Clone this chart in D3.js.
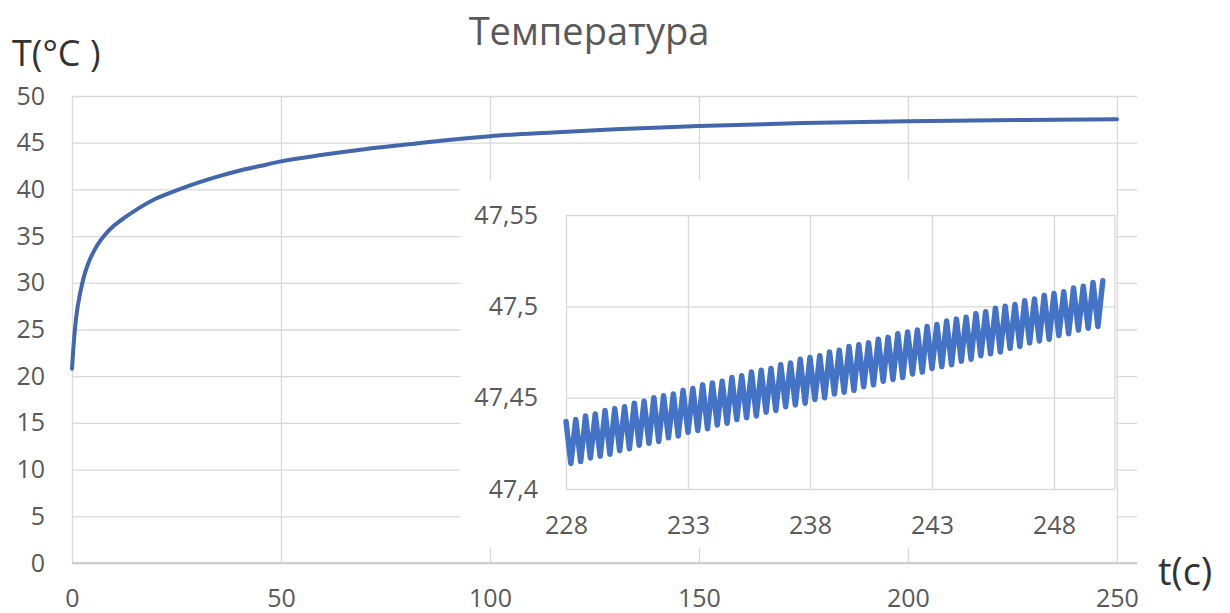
<!DOCTYPE html>
<html>
<head>
<meta charset="utf-8">
<script src="https://cdn.jsdelivr.net/npm/d3@7"></script>
<style>
  html, body { margin: 0; padding: 0; background: #ffffff; }
  svg { display: block; }
  text { font-family: "Open Sans", "DejaVu Sans", sans-serif; }
</style>
</head>
<body>
<svg id="chart" width="1230" height="613"></svg>
<script>
// ---- Main curve: heating from ambient, time in seconds, temperature in °C
const heatTime = [0, 0.5, 1, 2, 3, 4, 6, 8, 10, 13, 16, 20, 25, 30, 35, 40, 45, 50,
                  60, 70, 80, 90, 100, 115, 130, 150, 175, 200, 228, 250];
const heatTemp = [20.8, 24.0, 26.3, 29.0, 30.9, 32.2, 34.0, 35.2, 36.1, 37.1, 38.0, 39.0,
                  39.9, 40.7, 41.4, 42.0, 42.5, 43.0, 43.7, 44.3, 44.8, 45.3, 45.7, 46.1,
                  46.45, 46.8, 47.1, 47.3, 47.43, 47.5];

// ---- Detail window 228–250 s: sampled every 0.2 s, alternating peak / trough
const zoomStart = 228;
const zoomStep = 0.2;
const zoomTemp = [
  47.437, 47.414, 47.438, 47.415, 47.440, 47.417, 47.441, 47.418, 47.443, 47.419,
  47.444, 47.421, 47.445, 47.422, 47.447, 47.424, 47.448, 47.425, 47.450, 47.426,
  47.451, 47.428, 47.452, 47.429, 47.454, 47.431, 47.455, 47.432, 47.457, 47.433,
  47.458, 47.435, 47.459, 47.436, 47.461, 47.438, 47.462, 47.439, 47.464, 47.440,
  47.465, 47.442, 47.466, 47.443, 47.468, 47.445, 47.469, 47.446, 47.471, 47.447,
  47.472, 47.449, 47.473, 47.450, 47.475, 47.452, 47.476, 47.453, 47.478, 47.454,
  47.479, 47.456, 47.480, 47.457, 47.482, 47.459, 47.483, 47.460, 47.485, 47.461,
  47.486, 47.463, 47.487, 47.464, 47.489, 47.466, 47.490, 47.467, 47.492, 47.468,
  47.493, 47.470, 47.494, 47.471, 47.496, 47.473, 47.497, 47.474, 47.499, 47.475,
  47.500, 47.477, 47.501, 47.478, 47.503, 47.480, 47.504, 47.481, 47.506, 47.482,
  47.507, 47.484, 47.508, 47.485, 47.510, 47.487, 47.511, 47.488, 47.513, 47.489,
  47.514
];

// ---- Ticks and labels
const mainXTicks = [0, 50, 100, 150, 200, 250];
const mainYTicks = [0, 5, 10, 15, 20, 25, 30, 35, 40, 45, 50];
const zoomXTicks = [228, 233, 238, 243, 248];
const zoomYTicks = [47.4, 47.45, 47.5, 47.55];
const chartTitle = "Температура";
const yTitle = "T(°C )";
const xTitle = "t(c)";

const ruLocale = d3.formatLocale({ decimal: ",", thousands: " ", grouping: [3], currency: ["", " ₽"] });
const fmtComma = ruLocale.format("~g");

const svg = d3.select("#chart");
const gridColor = "#d9d9d9";
const labelColor = "#595959";
const lineColor = "#4472c4";

// ---------------- Main chart ----------------
const main = { left: 72, right: 1137, top: 96, bottom: 563 };
const x = d3.scaleLinear().domain([0, 254.8]).range([main.left, main.right]);
const y = d3.scaleLinear().domain([0, 50]).range([main.bottom, main.top]);

// horizontal gridlines + labels
const yAxis = svg.append("g")
  .attr("transform", `translate(${main.left},0)`)
  .call(d3.axisLeft(y).tickValues(mainYTicks).tickFormat(d3.format("d"))
    .tickSizeInner(-(main.right - main.left)).tickSizeOuter(0).tickPadding(27));
yAxis.select(".domain").remove();
yAxis.selectAll("line").attr("stroke", gridColor).attr("stroke-width", 1.3);
yAxis.selectAll("text").attr("fill", labelColor).style("font-size", "25px");

// vertical gridlines + labels
const xAxis = svg.append("g")
  .attr("transform", `translate(0,${main.bottom})`)
  .call(d3.axisBottom(x).tickValues(mainXTicks).tickFormat(d3.format("d"))
    .tickSizeInner(-(main.bottom - main.top)).tickSizeOuter(0).tickPadding(26));
xAxis.select(".domain").remove();
xAxis.selectAll("line").attr("stroke", gridColor).attr("stroke-width", 1.3);
xAxis.selectAll("text").attr("fill", labelColor).style("font-size", "25px");

// bottom axis line
svg.append("line")
  .attr("x1", main.left).attr("x2", main.right)
  .attr("y1", main.bottom).attr("y2", main.bottom)
  .attr("stroke", "#c4c4c4").attr("stroke-width", 1.6);

const heatData = heatTime.map((t, i) => ({ t, v: heatTemp[i] }));
svg.append("path")
  .datum(heatData)
  .attr("fill", "none")
  .attr("stroke", "#4466ab")
  .attr("stroke-width", 4)
  .attr("stroke-linejoin", "round")
  .attr("stroke-linecap", "round")
  .attr("d", d3.line().x(d => x(d.t)).y(d => y(d.v)).curve(d3.curveMonotoneX));

// titles
svg.append("text")
  .attr("x", 589).attr("y", 45)
  .attr("text-anchor", "middle")
  .attr("fill", labelColor)
  .style("font-size", "38px")
  .text(chartTitle);

svg.append("text")
  .attr("x", 12).attr("y", 66)
  .attr("fill", "#333333")
  .style("font-size", "36px")
  .text(yTitle);

svg.append("text")
  .attr("x", 1158).attr("y", 585)
  .attr("fill", "#333333")
  .style("font-size", "38px")
  .text(xTitle);

// ---------------- Detail chart ----------------
const box = { left: 460, right: 1116, top: 180, bottom: 548 };
svg.append("rect")
  .attr("x", box.left).attr("y", box.top)
  .attr("width", box.right - box.left).attr("height", box.bottom - box.top)
  .attr("fill", "#ffffff");

const zin = { left: 566, right: 1115, top: 215, bottom: 489 };
const zx = d3.scaleLinear().domain([228, 250.5]).range([zin.left, zin.right]);
const zy = d3.scaleLinear().domain([47.4, 47.55]).range([zin.bottom, zin.top]);

const zyAxis = svg.append("g")
  .attr("transform", `translate(${zin.left},0)`)
  .call(d3.axisLeft(zy).tickValues(zoomYTicks).tickFormat(fmtComma)
    .tickSizeInner(-(zin.right - zin.left)).tickSizeOuter(0).tickPadding(28));
zyAxis.select(".domain").remove();
zyAxis.selectAll("line").attr("stroke", gridColor).attr("stroke-width", 1.3);
zyAxis.selectAll("text").attr("fill", labelColor).style("font-size", "25px");

const zxAxis = svg.append("g")
  .attr("transform", `translate(0,${zin.bottom})`)
  .call(d3.axisBottom(zx).tickValues(zoomXTicks).tickFormat(d3.format("d"))
    .tickSizeInner(-(zin.bottom - zin.top)).tickSizeOuter(0).tickPadding(27));
zxAxis.select(".domain").remove();
zxAxis.selectAll("line").attr("stroke", gridColor).attr("stroke-width", 1.3);
zxAxis.selectAll("text").attr("fill", labelColor).style("font-size", "25px");

// right edge of the detail plot
svg.append("line")
  .attr("x1", zin.right).attr("x2", zin.right)
  .attr("y1", zin.top).attr("y2", zin.bottom)
  .attr("stroke", gridColor).attr("stroke-width", 1.3);

const zoomData = zoomTemp.map((v, i) => ({ t: zoomStart + i * zoomStep, v }));
svg.append("path")
  .datum(zoomData)
  .attr("fill", "none")
  .attr("stroke", lineColor)
  .attr("stroke-width", 5.5)
  .attr("stroke-linejoin", "round")
  .attr("stroke-linecap", "round")
  .attr("d", d3.line().x(d => zx(d.t)).y(d => zy(d.v)));
</script>
</body>
</html>
